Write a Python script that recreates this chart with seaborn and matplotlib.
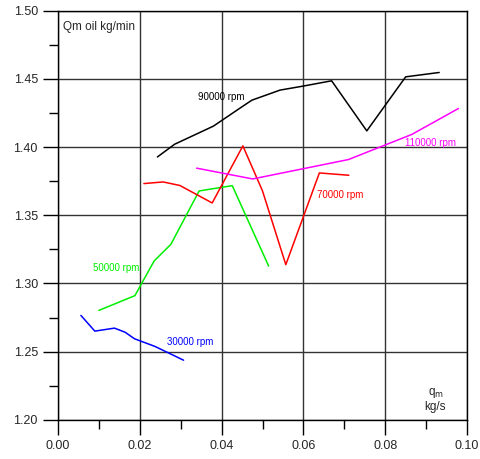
import pandas as pd
import seaborn as sns
import matplotlib
matplotlib.use('Agg')
import matplotlib.pyplot as plt
from matplotlib.ticker import MultipleLocator

# values
q_30k = [0.0056, 0.0090, 0.0138, 0.0164, 0.0187, 0.0237, 0.0307]
oil_30k = [1.2766, 1.2651, 1.2673, 1.2643, 1.2595, 1.2539, 1.2438]

q_50k = [0.0100, 0.0188, 0.0235, 0.0276, 0.0345, 0.0426, 0.0515]
oil_50k = [1.2803, 1.2911, 1.3165, 1.3287, 1.3678, 1.3717, 1.3128]

q_70k = [0.0210, 0.0257, 0.0298, 0.0377, 0.0452, 0.0500, 0.0557, 0.0639, 0.0711]
oil_70k = [1.3732, 1.3744, 1.3718, 1.3590, 1.4008, 1.3678, 1.3138, 1.3810, 1.3793]

q_90k = [0.0243, 0.0285, 0.0380, 0.0445, 0.0474, 0.0543, 0.0599, 0.0669, 0.0755, 0.0850, 0.0932]
oil_90k = [1.3927, 1.4020, 1.4153, 1.4285, 1.4343, 1.4417, 1.4446, 1.4485, 1.4118, 1.4514, 1.4546]

q_110k = [0.0339, 0.0476, 0.0710, 0.0865, 0.0979]
oil_110k = [1.3845, 1.3766, 1.3908, 1.4092, 1.4282]

speeds = ['30000 rpm', '50000 rpm', '70000 rpm', '90000 rpm', '110000 rpm']
colors = ['#0000ff', '#00ee00', '#ff0000', '#000000', '#ff00ff']

frames = []
for name, q, oil in zip(speeds,
                        [q_30k, q_50k, q_70k, q_90k, q_110k],
                        [oil_30k, oil_50k, oil_70k, oil_90k, oil_110k]):
    frames.append(pd.DataFrame({'qm': q, 'oil': oil, 'speed': name}))
df = pd.concat(frames, ignore_index=True)

sns.set_style('white')
plt.rcParams['font.family'] = ['Liberation Sans', 'DejaVu Sans']

fig = plt.figure(figsize=(4.81, 4.59), dpi=100)
ax = fig.add_axes([0.1206, 0.0850, 0.8503, 0.8921])

sns.lineplot(data=df, x='qm', y='oil', hue='speed', palette=dict(zip(speeds, colors)),
             sort=False, estimator=None, lw=1.1, legend=False, ax=ax)

ax.set_xlim(0, 0.10)
ax.set_ylim(1.20, 1.50)
ax.xaxis.set_major_locator(MultipleLocator(0.02))
ax.xaxis.set_minor_locator(MultipleLocator(0.01))
ax.yaxis.set_major_locator(MultipleLocator(0.05))
ax.yaxis.set_minor_locator(MultipleLocator(0.025))
ax.xaxis.set_major_formatter(matplotlib.ticker.FormatStrFormatter('%.2f'))
ax.yaxis.set_major_formatter(matplotlib.ticker.FormatStrFormatter('%.2f'))
ax.tick_params(which='major', direction='out', length=10.5, width=1, color='black',
               labelsize=9, pad=4, bottom=True, left=True)
ax.tick_params(which='minor', direction='out', length=6.5, width=1, color='black',
               bottom=True, left=True)
ax.grid(which='major', color='#333333', lw=1)
for s in ax.spines.values():
    s.set_color('black')
    s.set_linewidth(1)
ax.set_xlabel('')
ax.set_ylabel('')

# curve labels
label_pos = {'90000 rpm': (0.0342, 1.4365), '110000 rpm': (0.0848, 1.4030),
             '70000 rpm': (0.0633, 1.3646), '50000 rpm': (0.0086, 1.3111),
             '30000 rpm': (0.0267, 1.2575)}
for name, c in zip(speeds, colors):
    x, y = label_pos[name]
    ax.text(x, y, name, color=c, fontsize=7, ha='left', va='center')

ax.text(0.0012, 1.4879, 'Qm oil kg/min', fontsize=8.5, ha='left', va='center')
ax.text(0.0925, 1.2201, r'q$_\mathrm{m}$', fontsize=8.5, ha='center', va='center')
ax.text(0.0922, 1.2098, 'kg/s', fontsize=8.5, ha='center', va='center')

fig.savefig('out.png', dpi=100)
